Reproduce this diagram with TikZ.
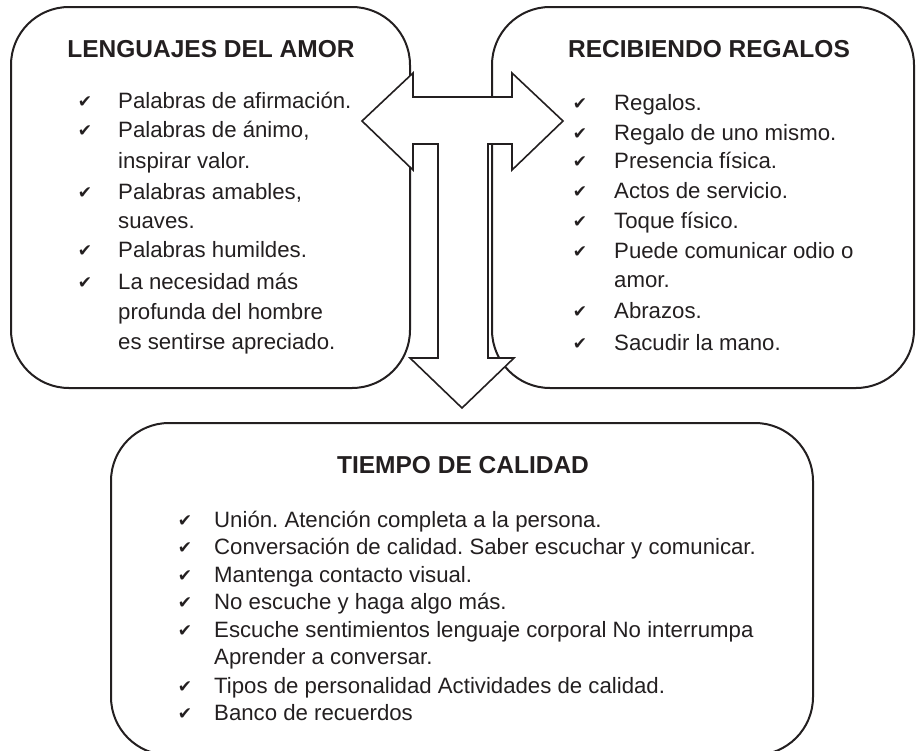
\documentclass[tikz,border=0pt]{standalone}
\usepackage{fontspec}
\setmainfont{Liberation Sans}
\newfontfamily\checkfont{DejaVu Sans}
\definecolor{ink}{RGB}{35,31,32}
\frenchspacing

\begin{document}
\begin{tikzpicture}[x=1pt,y=-1pt,
	caja/.style={draw=ink,line width=2pt,rounded corners=58pt,inner sep=0pt},
	titulo/.style={font=\bfseries\fontsize{24.5}{28}\selectfont,text=ink,inner sep=0pt,anchor=base},
	renglon/.style={font=\fontsize{22.2}{26}\selectfont,text=ink,inner sep=0pt,anchor=base west},
	marca/.style={font=\checkfont\fontsize{17}{17}\selectfont,text=ink,inner sep=0pt}]
	\useasboundingbox (0,0) rectangle (916,750);
	\node[caja,minimum width=399pt,minimum height=381pt] (amor) at (210.5,197.5) {};
	\node[caja,minimum width=422pt,minimum height=381pt] (regalos) at (703,197.5) {};
	\node[caja,minimum width=702pt,minimum height=332pt] (tiempo) at (462,589) {};
	\draw[ink,line width=1.6pt,fill=white,line join=miter]
		(362,121) -- (413,73) -- (413,97) -- (512,97) -- (512,73) -- (563,121)
		-- (512,170) -- (512,144) -- (488,144) -- (488,358) -- (514,358)
		-- (462,408) -- (410,358) -- (438,358) -- (438,144) -- (413,144)
		-- (413,170) -- cycle;
	\node[titulo] (amort) at (211,57) {LENGUAJES DEL AMOR};
	\node[titulo] (regalost) at (709,57) {RECIBIENDO REGALOS};
	\node[titulo] (tiempot) at (463,473) {TIEMPO DE CALIDAD};
	\foreach \y/\t [count=\i] in {108/{Palabras de afirmación.},137/{Palabras de ánimo,},
		168/{inspirar valor.},199/{Palabras amables,},228/{suaves.},257/{Palabras humildes.},
		289/{La necesidad más},319/{profunda del hombre},349/{es sentirse apreciado.}}
		\node[renglon] (a\i) at (118,\y) {\t};
	\foreach \y [count=\i] in {108,137,199,257,289}
		\node[marca] (ca\i) at (85,\y-6) {✔};
	\foreach \y/\t [count=\i] in {110/{Regalos.},140/{Regalo de uno mismo.},168/{Presencia física.},
		198/{Actos de servicio.},228/{Toque físico.},258/{Puede comunicar odio o},
		287/{amor.},318/{Abrazos.},350/{Sacudir la mano.}}
		\node[renglon] (r\i) at (614,\y) {\t};
	\foreach \y [count=\i] in {110,140,168,198,228,258,318,350}
		\node[marca] (cr\i) at (580,\y-6) {✔};
	\foreach \y/\t [count=\i] in {527/{Unión. Atención completa a la persona.},
		554/{Conversación de calidad. Saber escuchar y comunicar.},
		582/{Mantenga contacto visual.},609/{No escuche y haga algo más.},
		637/{Escuche sentimientos lenguaje corporal No interrumpa},
		664/{Aprender a conversar.},693/{Tipos de personalidad Actividades de calidad.},
		720/{Banco de recuerdos}}
		\node[renglon] (t\i) at (214,\y) {\t};
	\foreach \y [count=\i] in {527,554,582,609,637,693,720}
		\node[marca] (ct\i) at (185,\y-6) {✔};
\end{tikzpicture}
\end{document}
